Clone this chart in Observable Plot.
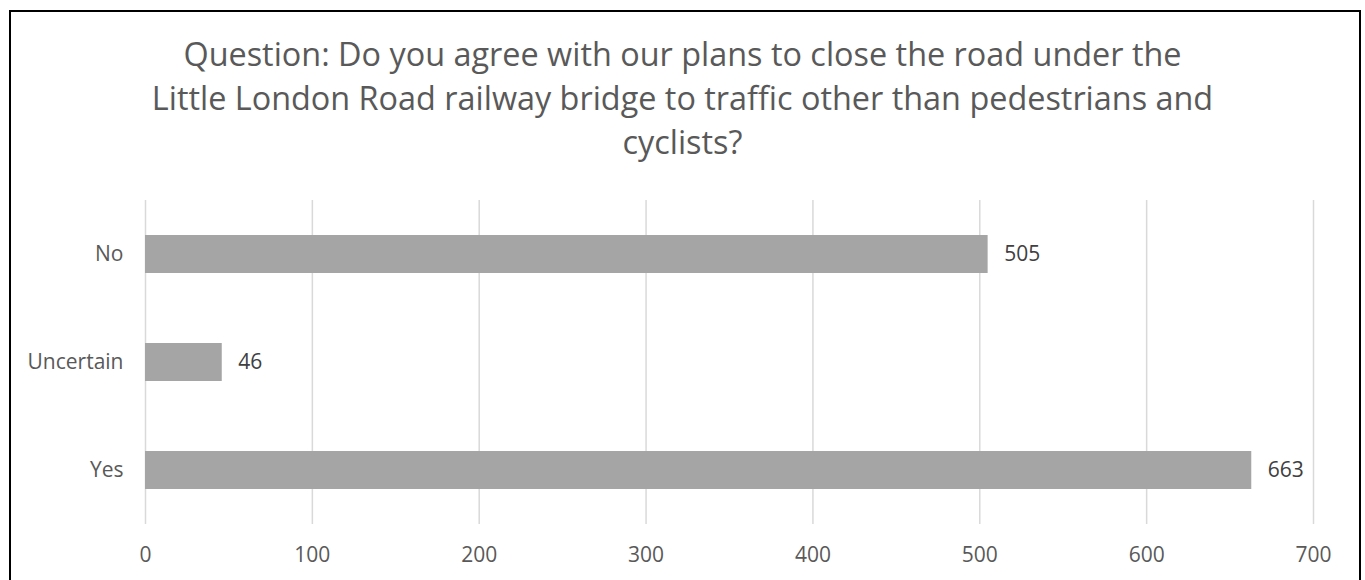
<!DOCTYPE html>
<html>
<head>
<meta charset="utf-8">
<script src="https://cdn.jsdelivr.net/npm/d3@7"></script>
<script src="https://cdn.jsdelivr.net/npm/@observablehq/plot@0.6"></script>
<style>
  html, body { margin: 0; padding: 0; background: #fff; overflow: hidden; }
  body { width: 1365px; height: 580px; position: relative; font-family: "Open Sans", sans-serif; }
  #frame { position: absolute; left: 9px; top: 10px; width: 1352px; height: 620px; border: 2px solid #000; pointer-events: none; box-sizing: border-box; }
  #title { height: 190px; box-sizing: border-box; padding-top: 31px; text-align: center; color: #595959; font-size: 32.4px; line-height: 44px; white-space: nowrap; }
  #chart svg { display: block; }
</style>
</head>
<body>
<div id="title">Question: Do you agree with our plans to close the road under the<br>Little London Road railway bridge to traffic other than pedestrians and<br>cyclists?</div>
<div id="chart"></div>
<div id="frame"></div>
<script>
const categories = ["No", "Uncertain", "Yes"];
const values = [505, 46, 663];
const xTicks = [0, 100, 200, 300, 400, 500, 600, 700];

const data = categories.map((c, i) => ({answer: c, count: values[i]}));

const chart = Plot.plot({
  width: 1365,
  height: 390,
  marginLeft: 145,
  marginRight: 52,
  marginTop: 10,
  marginBottom: 56,
  style: {fontFamily: "'Open Sans', sans-serif", fontSize: "21px", background: "#fff"},
  x: {domain: [0, 700], ticks: xTicks, label: null},
  y: {domain: categories, paddingInner: 0.648, paddingOuter: 0.324, label: null},
  marks: [
    Plot.gridX(xTicks, {stroke: "#d9d9d9", strokeOpacity: 1, strokeWidth: 1.5}),
    Plot.axisX({ticks: xTicks, tickSize: 0, tickPadding: 23, fill: "#595959", fontSize: 21, label: null}),
    Plot.axisY({tickSize: 0, tickPadding: 22, fill: "#595959", fontSize: 21, label: null}),
    Plot.barX(data, {x: "count", y: "answer", fill: "#a5a5a5"}),
    Plot.text(data, {x: "count", y: "answer", text: d => String(d.count), dx: 16, textAnchor: "start", fill: "#404040", fontSize: 21})
  ]
});
document.getElementById("chart").appendChild(chart);
</script>
</body>
</html>
